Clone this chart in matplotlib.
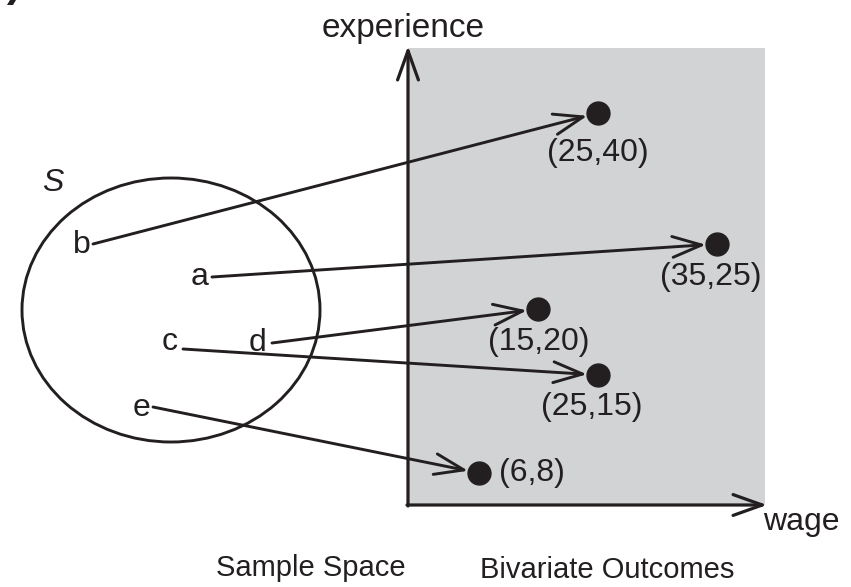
import matplotlib
matplotlib.use("Agg")
import matplotlib.pyplot as plt
from matplotlib.patches import Ellipse, Rectangle, FancyArrowPatch, Polygon

# ---- data ----
outcomes = ["b", "a", "d", "c", "e"]
wage = [25, 35, 15, 25, 6]
experience = [40, 25, 20, 15, 8]

# ---- schematic layout (diagram pixel coordinates) ----
sample_pos = [(82, 245), (200, 277), (258, 343), (170, 342), (142, 408)]
line_start = [(93, 244), (212, 277), (272, 343), (183, 349), (153, 407)]
dot_pos = [(598, 113), (717, 244), (538, 309), (598, 375), (479, 473)]
label_off = [(0, 40), (-6, 33), (1, 33), (-6, 32), (53, 0)]

W, H = 851, 587
fig = plt.figure(figsize=(W / 100, H / 100), dpi=100)
ax = fig.add_axes([0, 0, 1, 1])
ax.set_xlim(0, W)
ax.set_ylim(H, 0)
ax.axis("off")

FONT = "Liberation Sans"
FS = 23
LW = 2.1
INK = "#231f20"
HEAD = "->,head_length=21,head_width=7.5"

# gray outcome region
ax.add_patch(Rectangle((408, 48), 357, 457, facecolor="#d1d3d4", edgecolor="none", zorder=0))

# axes with open arrowheads
ax.add_patch(FancyArrowPatch((408, 506), (408, 46), arrowstyle=HEAD,
                             mutation_scale=1, lw=2.3, color=INK, shrinkA=0, shrinkB=0, zorder=2))
ax.add_patch(FancyArrowPatch((407, 505), (767, 505), arrowstyle=HEAD,
                             mutation_scale=1, lw=2.3, color=INK, shrinkA=0, shrinkB=0, zorder=2))
ax.text(403, 28, "experience", fontsize=24, family=FONT, ha="center", va="center", color=INK)
ax.text(763, 522, "wage", fontsize=FS, family=FONT, ha="left", va="center", color=INK)

# sample space
ax.add_patch(Ellipse((171, 310), 298, 264, facecolor="none", edgecolor=INK, lw=LW, zorder=2))
ax.text(53, 183, "S", fontsize=FS, family=FONT, style="italic", ha="center", va="center", color=INK)

for name, sp, ls, dp, lo, w, e in zip(outcomes, sample_pos, line_start, dot_pos, label_off, wage, experience):
    ax.text(sp[0], sp[1], name, fontsize=FS, family=FONT, ha="center", va="center", color=INK, zorder=3)
    ax.add_patch(FancyArrowPatch(ls, dp, arrowstyle=HEAD,
                                 mutation_scale=1, lw=LW, color=INK, shrinkA=0, shrinkB=8, zorder=3))
    ax.plot(dp[0], dp[1], "o", ms=16.5, color=INK, zorder=4)
    ax.text(dp[0] + lo[0], dp[1] + lo[1], f"({w},{e})", fontsize=FS, family=FONT,
            ha="center", va="center", color=INK, zorder=4)

# bottom captions
ax.text(311, 568, "Sample Space", fontsize=21, family=FONT, ha="center", va="center", color=INK)
ax.text(607, 570, "Bivariate Outcomes", fontsize=21, family=FONT, ha="center", va="center", color=INK)

# clipped fragment of panel letter at the top-left corner
ax.add_patch(Polygon([(7, 5), (10, 0), (16, 0), (13, 5)], closed=True, facecolor=INK, edgecolor="none"))

fig.savefig("out.png", dpi=100)
